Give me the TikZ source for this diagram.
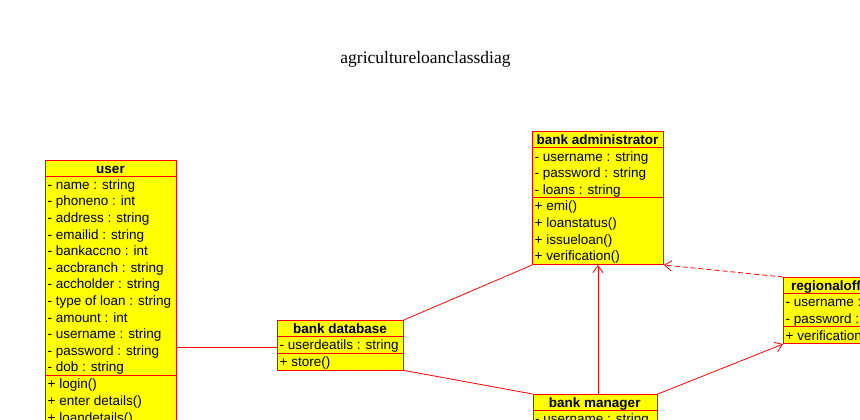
\documentclass[tikz,border=0pt]{standalone}
\usepackage{fontspec}
\setmainfont{Liberation Serif}
\newfontfamily\arialf{Liberation Sans}
\usetikzlibrary{arrows.meta}
\definecolor{umlred}{RGB}{255,0,0}
\definecolor{umlyellow}{RGB}{255,255,0}
\tikzset{
  cls/.style={draw=umlred, fill=umlyellow, line width=0.8pt, inner sep=0pt, anchor=north west},
  sepline/.style={draw=umlred, line width=0.8pt},
  attr/.style={anchor=base west, inner sep=0pt, font=\arialf\fontsize{13.5}{16}\selectfont},
  hdr/.style={anchor=base, inner sep=0pt, font=\arialf\bfseries\fontsize{13.5}{16}\selectfont},
  conn/.style={draw=umlred, line width=0.8pt},
  nav/.style={conn, -{Straight Barb[length=7pt,width=10pt]}},
  dep/.style={nav, dash pattern=on 5pt off 3pt},
}
\begin{document}
\begin{tikzpicture}[x=1pt,y=-1pt]
\useasboundingbox (0,0) rectangle (860,420);
\clip (0,0) rectangle (860,420);
\fill[white] (0,0) rectangle (860,420);

\node[font=\fontsize{17.5}{20}\selectfont, anchor=base, inner sep=0pt] (title) at (425.5,64) {agricultureloanclassdiag};

% user
\node[cls, minimum width=131pt, minimum height=320pt] (user) at (45,160) {};
\draw[sepline] (45,176) -- (176,176);
\draw[sepline] (45,375.5) -- (176,375.5);
\node[hdr] (userh) at (110.5,173) {user};
\foreach \t [count=\i from 0] in {- name : string, - phoneno : int, - address : string, - emailid : string, - bankaccno : int, - accbranch : string, - accholder : string, - type of loan : string, - amount : int, - username : string, - password : string, - dob : string}
  \node[attr] (ua\i) at (47.5,189.3+16.6*\i) {\t};
\foreach \t [count=\i from 0] in {+ login(), + enter details(), + loandetails()}
  \node[attr] (um\i) at (47.5,388.8+16.6*\i) {\t};

% bank administrator
\node[cls, minimum width=131pt, minimum height=133.2pt] (admin) at (532,131) {};
\draw[sepline] (532,147.8) -- (663,147.8);
\draw[sepline] (532,197.6) -- (663,197.6);
\node[hdr] (adminh) at (597.5,144) {bank administrator};
\foreach \t [count=\i from 0] in {- username : string, - password : string, - loans : string}
  \node[attr] (aa\i) at (534.5,161.1+16.6*\i) {\t};
\foreach \t [count=\i from 0] in {+ emi(), + loanstatus(), + issueloan(), + verification()}
  \node[attr] (am\i) at (534.5,210.9+16.6*\i) {\t};

% bank database
\node[cls, minimum width=126pt, minimum height=49.6pt] (db) at (277,320) {};
\draw[sepline] (277,336.5) -- (403,336.5);
\draw[sepline] (277,353) -- (403,353);
\node[hdr] (dbh) at (340,333) {bank database};
\node[attr] (da0) at (279.5,349.8) {- userdeatils : string};
\node[attr] (dm0) at (279.5,366.3) {+ store()};

% regionaloffice
\node[cls, minimum width=130pt, minimum height=66.3pt] (reg) at (783,277) {};
\draw[sepline] (783,293.5) -- (913,293.5);
\draw[sepline] (783,326.7) -- (913,326.7);
\node[hdr, anchor=base west] (regh) at (791,290) {regionaloffice};
\node[attr] (ra0) at (785.5,306.8) {- username : string};
\node[attr] (ra1) at (785.5,323.4) {- password : string};
\node[attr] (rm0) at (785.5,340) {+ verification()};

% bank manager
\node[cls, minimum width=124.5pt, minimum height=80pt] (mgr) at (532.5,394) {};
\draw[sepline] (532.5,410.5) -- (657,410.5);
\node[hdr] (mgrh) at (594.75,407) {bank manager};
\node[attr] (ma0) at (535,423.8) {- username : string};

% connectors
\draw[conn] (user.east |- 0,347) -- (db.west |- 0,347);
\draw[conn] (db.north east) -- (admin.south west);
\draw[conn] (db.south east) -- (mgr.north west);
\draw[nav] (mgr.north -| admin.south) -- (admin.south);
\draw[nav] (mgr.north east) -- (reg.south west);
\draw[dep] (reg.north west) -- (admin.south east);
\end{tikzpicture}
\end{document}
